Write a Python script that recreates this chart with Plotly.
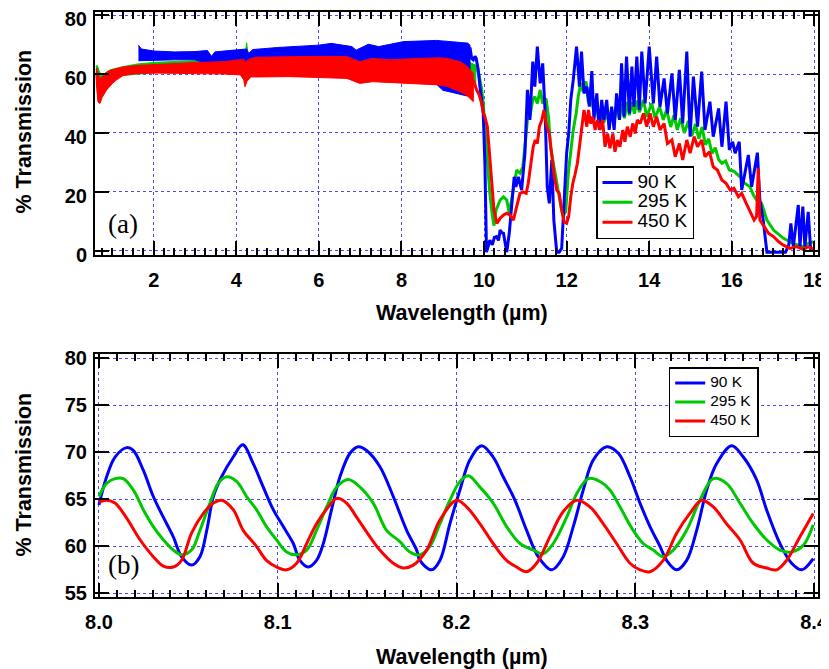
import plotly.graph_objects as go

# ---------------- Panel (a): dense-fringe region drawn as bands ----------------
blue_band_x  = [1.63, 1.70, 2.00, 2.50, 3.00, 3.30, 3.40, 3.48, 3.70, 4.00, 4.25, 4.30, 4.40, 5.00, 5.50, 6.00, 6.30, 6.80, 6.90, 7.20, 7.45, 8.05, 8.85, 9.00, 9.30, 9.60, 9.66]
blue_band_hi = [69.8, 68.5, 67.8, 67.5, 67.6, 68.0, 66.0, 67.5, 67.8, 68.3, 68.5, 67.0, 68.3, 69.0, 69.3, 69.8, 70.4, 69.3, 68.1, 70.1, 69.3, 71.0, 71.4, 71.2, 71.0, 70.5, 69.8]
blue_band_lo = [64.5, 64.5, 64.5, 64.8, 64.8, 63.5, 60.3, 63.5, 64.5, 63.0, 63.6, 62.0, 63.0, 62.0, 61.0, 60.5, 60.5, 60.0, 58.5, 59.0, 58.5, 58.0, 56.5, 54.5, 53.5, 52.5, 52.5]

green_band_x  = [0.60, 0.63, 0.68, 0.74, 0.94, 1.26, 1.60, 2.07, 3.00, 3.70, 3.76, 4.20, 4.25, 4.30, 5.00, 9.50, 9.80]
green_band_hi = [62.5, 63.0, 61.0, 59.5, 61.4, 62.5, 63.4, 64.0, 64.5, 65.0, 64.0, 64.5, 70.6, 65.0, 65.0, 65.0, 63.0]
green_band_lo = [60.5, 56.0, 54.0, 55.0, 58.0, 59.5, 60.0, 60.5, 61.0, 61.0, 61.0, 61.0, 61.0, 61.0, 60.0, 58.0, 56.0]

red_band_x  = [0.60, 0.62, 0.65, 0.70, 0.75, 0.86, 1.00, 1.10, 1.26, 1.60, 2.07, 2.88, 3.69, 4.10, 4.18, 4.21, 4.26, 4.35, 4.50, 5.30, 6.00, 6.68, 6.99, 7.30, 7.70, 8.25, 8.90, 9.10, 9.42, 9.60, 9.74]
red_band_hi = [61.5, 62.0, 60.0, 58.5, 59.0, 60.7, 61.5, 61.8, 62.4, 62.9, 63.3, 63.8, 64.2, 65.0, 65.0, 64.0, 64.5, 65.3, 65.7, 65.9, 66.0, 65.9, 64.2, 65.3, 64.8, 65.2, 65.5, 65.3, 64.2, 62.5, 60.2]
red_band_lo = [60.0, 55.0, 50.5, 50.0, 52.0, 54.6, 56.8, 58.0, 59.5, 60.2, 60.3, 60.2, 60.0, 59.7, 58.0, 55.7, 57.5, 59.0, 59.0, 59.1, 58.8, 58.5, 56.8, 57.4, 57.2, 56.8, 56.3, 55.8, 54.0, 52.5, 50.6]

# ---------------- Panel (a): resolved region (lines) ----------------
blue_x = [9.66, 9.70, 9.74, 9.78, 9.81, 9.86, 9.90, 9.98, 10.02, 10.06, 10.10, 10.14, 10.20, 10.25, 10.30, 10.35, 10.39, 10.44, 10.47, 10.51, 10.55,
          10.61, 10.67, 10.73, 10.77, 10.83, 10.91, 10.99, 11.05, 11.11, 11.18, 11.23, 11.29, 11.36, 11.42, 11.48, 11.53, 11.58, 11.64, 11.69,
          11.76, 11.82, 11.88, 11.94, 12.00, 12.05, 12.10, 12.16, 12.24, 12.31, 12.36, 12.42, 12.49, 12.55, 12.61, 12.66, 12.73, 12.79, 12.85,
          12.90, 12.97, 13.03, 13.09, 13.15, 13.21, 13.28, 13.33, 13.39, 13.45, 13.52, 13.58, 13.63, 13.70, 13.76, 13.82, 13.90, 14.00, 14.10,
          14.18, 14.26, 14.36, 14.44, 14.55, 14.63, 14.73, 14.81, 14.91, 14.99, 15.07, 15.17, 15.27, 15.35, 15.47, 15.55, 15.68, 15.76, 15.86,
          15.94, 16.02, 16.08, 16.18, 16.24, 16.40, 16.48, 16.62, 16.68, 16.76, 16.85, 17.30, 17.38, 17.43, 17.49, 17.61, 17.65, 17.72, 17.77,
          17.85, 17.91, 18.00]
blue_y = [69.0, 65.3, 64.8, 66.0, 65.3, 61.4, 55.7, 46.6, 30.0, -0.5, 1.5, 3.6, 2.0, 4.5, 4.8, 3.5, 7.0, 6.0, 5.9, 2.5, -0.5,
          5.9, 15.0, 25.1, 21.7, 25.1, 20.6, 33.1, 54.6, 44.4, 64.2, 55.7, 69.3, 56.8, 63.6, 46.6, 21.7, 16.1, 30.8, 10.4,
          -0.5, -0.5, 0.8, 15.0, 33.1, 39.8, 51.2, 58.0, 69.3, 55.7, 67.6, 53.4, 55.7, 48.9, 61.0, 44.4, 53.4, 41.0, 51.2,
          44.4, 51.2, 41.0, 48.9, 41.0, 53.4, 44.4, 63.6, 45.5, 65.9, 46.6, 62.5, 48.9, 65.9, 47.8, 67.6, 50.0, 69.3, 50.0,
          65.9, 48.9, 58.5, 46.6, 60.2, 44.4, 61.4, 43.2, 67.6, 38.7, 59.1, 42.1, 60.8, 41.0, 50.6, 38.7, 48.3, 35.3, 50.6,
          34.2, 37.0, 33.1, 37.0, 20.6, 32.5, 21.7, 33.3, 17.2, 10.4, -0.5, -0.5, 2.0, 9.3, 1.4, 15.5, 1.4, 15.0, 1.4,
          13.2, 0.2, 0.5]

green_x = [9.80, 9.88, 9.94, 9.98, 10.03, 10.08, 10.14, 10.20, 10.24, 10.29, 10.39, 10.47, 10.55, 10.61, 10.67, 10.73, 10.79, 10.87, 10.94,
           10.99, 11.05, 11.11, 11.18, 11.23, 11.29, 11.36, 11.42, 11.50, 11.56, 11.61, 11.68, 11.74, 11.80, 11.86, 11.92, 11.98, 12.04,
           12.10, 12.16, 12.23, 12.28, 12.34, 12.40, 12.47, 12.53, 12.58, 12.65, 12.71, 12.77, 12.83, 12.90, 12.97, 13.03, 13.09, 13.15,
           13.21, 13.28, 13.33, 13.40, 13.46, 13.52, 13.58, 13.64, 13.70, 13.76, 13.86, 13.94, 14.06, 14.14, 14.25, 14.34, 14.42, 14.52,
           14.60, 14.68, 14.76, 14.85, 14.95, 15.03, 15.12, 15.20, 15.28, 15.36, 15.44, 15.52, 15.60, 15.68, 15.76, 15.85, 15.94, 16.05,
           16.20, 16.30, 16.44, 16.52, 16.60, 16.72, 16.85, 17.01, 17.25, 17.49, 17.73, 17.85, 17.98]
green_y = [63.0, 59.5, 55.0, 50.0, 40.0, 30.0, 19.5, 12.0, 8.5, 13.8, 17.2, 18.3, 17.2, 12.7, 17.2, 22.9, 27.4, 26.3, 28.5,
           35.3, 44.4, 45.5, 51.2, 52.3, 50.0, 54.6, 50.0, 51.7, 45.5, 35.3, 29.7, 24.0, 19.5, 15.0, 11.6, 13.8, 26.3,
           33.1, 41.0, 46.6, 52.3, 56.8, 54.0, 57.5, 50.0, 53.4, 47.8, 51.2, 44.4, 46.0, 43.5, 47.0, 43.0, 48.0, 43.5,
           49.0, 44.5, 50.0, 45.0, 50.5, 46.0, 50.5, 46.5, 51.0, 47.0, 51.2, 45.5, 50.0, 45.0, 48.9, 44.4, 47.8, 42.0,
           46.0, 41.0, 45.0, 40.0, 44.0, 39.0, 43.0, 38.0, 42.0, 36.0, 38.0, 33.0, 35.0, 31.0, 29.7, 30.5, 27.4, 27.0,
           25.1, 23.0, 21.7, 19.0, 17.2, 16.1, 10.4, 7.0, 4.2, 2.5, 1.4, 2.5, 3.1]

red_x = [9.74, 9.78, 9.82, 9.88, 9.94, 9.98, 10.02, 10.08, 10.13, 10.18, 10.24, 10.31, 10.39, 10.47, 10.55, 10.63, 10.71, 10.79, 10.87, 10.95,
         11.02, 11.07, 11.13, 11.19, 11.24, 11.29, 11.34, 11.40, 11.45, 11.52, 11.58, 11.64, 11.69, 11.76, 11.82, 11.88, 11.94, 12.00, 12.05,
         12.10, 12.15, 12.20, 12.26, 12.32, 12.37, 12.42, 12.49, 12.53, 12.58, 12.63, 12.69, 12.74, 12.81, 12.87, 12.93, 12.99, 13.05, 13.12,
         13.17, 13.23, 13.29, 13.36, 13.41, 13.47, 13.54, 13.60, 13.66, 13.71, 13.78, 13.86, 13.94, 14.02, 14.10, 14.18, 14.26, 14.36, 14.44,
         14.55, 14.63, 14.73, 14.81, 14.91, 14.99, 15.09, 15.17, 15.27, 15.35, 15.46, 15.55, 15.65, 15.76, 15.86, 15.96, 16.05, 16.16, 16.24,
         16.35, 16.44, 16.54, 16.60, 16.64, 16.68, 16.76, 16.89, 17.01, 17.13, 17.25, 17.41, 17.57, 17.73, 17.85, 17.98]
red_y = [58.0, 56.0, 54.6, 53.0, 50.0, 47.0, 45.5, 42.1, 33.1, 21.7, 13.8, 9.3, 11.0, 12.1, 12.7, 12.1, 10.4, 15.0, 19.5, 20.0,
         19.5, 22.9, 28.5, 35.3, 37.6, 36.4, 42.1, 44.4, 47.8, 42.1, 39.8, 33.1, 26.3, 20.6, 19.5, 13.8, 9.8, 9.3, 11.6,
         18.3, 22.9, 25.7, 29.7, 36.4, 42.1, 47.8, 42.1, 47.8, 43.2, 45.5, 41.0, 44.4, 41.0, 44.4, 35.3, 39.8, 34.8, 39.8,
         33.6, 37.6, 35.3, 41.0, 37.0, 42.1, 38.7, 43.2, 39.8, 44.4, 43.2, 46.6, 42.1, 46.6, 42.1, 45.5, 41.0, 43.2, 36.4,
         37.6, 31.9, 36.4, 30.8, 37.6, 33.1, 38.7, 35.3, 37.6, 31.9, 33.6, 28.5, 27.4, 24.0, 22.9, 20.6, 21.2, 18.3, 19.5,
         16.1, 13.2, 10.4, 11.6, 28.0, 10.4, 8.7, 5.9, 4.8, 3.1, 1.9, 0.8, 1.4, 0.5, 1.4, 0.5]

# ---------------- Panel (b) ----------------
b_blue_x = [8.0, 8.0043, 8.009, 8.0155, 8.0192, 8.0248, 8.0304, 8.036, 8.0416, 8.0462, 8.0518, 8.0565, 8.0603, 8.064, 8.0686, 8.0751, 8.0804,
            8.0863, 8.0919, 8.0975, 8.1031, 8.1087, 8.1124, 8.1171, 8.1217, 8.1255, 8.1301, 8.1348, 8.1404, 8.145, 8.1497, 8.1571, 8.1646,
            8.1721, 8.1777, 8.1795, 8.186, 8.1907, 8.1963, 8.2019, 8.2075, 8.214, 8.2205, 8.2261, 8.2327, 8.2392, 8.2457, 8.2532, 8.2597,
            8.2653, 8.2709, 8.2765, 8.284, 8.2905, 8.297, 8.3026, 8.3082, 8.3138, 8.3175, 8.3231, 8.3287, 8.3343, 8.3399, 8.3455, 8.3539,
            8.3604, 8.3678, 8.3734, 8.3809, 8.3874, 8.393, 8.3995]
b_blue_y = [64.4, 67.4, 69.5, 70.5, 70.2, 68.1, 65.3, 63.1, 61.0, 58.9, 58.0, 58.9, 61.7, 65.3, 67.4, 69.5, 70.8,
            68.8, 66.3, 63.9, 62.1, 60.3, 58.5, 57.8, 58.5, 60.3, 63.9, 67.4, 69.9, 70.6, 70.2, 68.5, 65.3,
            61.7, 59.6, 58.5, 57.5, 58.5, 62.4, 66.0, 69.2, 70.7, 69.5, 67.4, 64.9, 61.7, 58.9, 57.5, 58.9,
            62.1, 66.0, 69.2, 70.6, 69.9, 67.4, 64.6, 62.1, 60.0, 58.5, 57.5, 58.5, 61.7, 66.0, 68.8, 70.7,
            69.5, 67.1, 63.9, 60.3, 58.2, 57.5, 58.7]

b_green_x = [8.0, 8.0043, 8.009, 8.0136, 8.0192, 8.0248, 8.0304, 8.036, 8.0416, 8.0462, 8.0518, 8.0565, 8.0621, 8.0667, 8.0714, 8.077,
             8.0826, 8.0881, 8.0937, 8.0993, 8.105, 8.1106, 8.1162, 8.1217, 8.1283, 8.133, 8.1395, 8.146, 8.1534, 8.1609, 8.1683, 8.1739,
             8.1795, 8.1851, 8.1907, 8.1963, 8.2019, 8.2066, 8.2131, 8.2205, 8.228, 8.2355, 8.243, 8.2485, 8.2541, 8.2616, 8.2672, 8.2737,
             8.2802, 8.2858, 8.2914, 8.2988, 8.3044, 8.31, 8.3156, 8.3212, 8.3287, 8.3361, 8.3436, 8.351, 8.3585, 8.366, 8.3734, 8.3809,
             8.3874, 8.3939, 8.3995]
b_green_y = [65.3, 66.7, 67.2, 67.2, 66.0, 63.9, 62.1, 60.7, 59.6, 59.1, 59.6, 61.7, 64.6, 66.7, 67.4, 66.9,
             65.3, 63.9, 62.1, 60.7, 59.4, 59.1, 59.6, 61.7, 64.6, 66.3, 67.1, 66.3, 64.6, 61.7, 60.5, 59.4,
             59.1, 60.0, 62.4, 64.9, 66.9, 67.5, 66.3, 64.6, 62.1, 60.3, 59.6, 59.2, 60.3, 63.1, 65.6, 67.2,
             66.9, 66.0, 64.2, 61.7, 60.3, 59.6, 58.9, 59.6, 61.7, 64.9, 67.2, 66.7, 64.6, 62.4, 60.7, 59.6,
             59.4, 60.1, 62.3]

b_red_x = [8.0, 8.0043, 8.009, 8.0155, 8.023, 8.0304, 8.036, 8.0416, 8.0462, 8.0518, 8.0584, 8.064, 8.0686, 8.0751, 8.0807, 8.0881,
           8.0937, 8.0993, 8.105, 8.1106, 8.1162, 8.1217, 8.1283, 8.133, 8.1385, 8.1441, 8.1516, 8.1571, 8.1646, 8.1702, 8.1758, 8.1833,
           8.1907, 8.2, 8.2056, 8.2131, 8.2205, 8.228, 8.2336, 8.2392, 8.2448, 8.2522, 8.2597, 8.2672, 8.2746, 8.2821, 8.2895, 8.297,
           8.3026, 8.3082, 8.3156, 8.3231, 8.3305, 8.3371, 8.3436, 8.351, 8.3585, 8.366, 8.3734, 8.379, 8.3846, 8.392, 8.3995]
b_red_y = [64.7, 64.9, 64.6, 63.0, 60.7, 58.9, 57.9, 57.8, 58.5, 61.4, 63.5, 64.6, 64.9, 63.9, 61.7, 60.0,
           58.5, 57.8, 57.5, 58.2, 60.3, 62.4, 64.2, 65.1, 64.6, 63.1, 61.0, 59.6, 58.2, 57.7, 58.0, 59.6,
           62.8, 64.9, 64.2, 62.4, 60.3, 58.5, 57.8, 57.3, 58.2, 61.0, 63.7, 64.9, 64.2, 62.4, 60.3, 58.2,
           57.5, 57.3, 58.5, 61.4, 63.5, 64.9, 64.2, 62.4, 60.7, 58.2, 57.7, 57.5, 58.5, 61.0, 63.5]

series_names = ["90 K", "295 K", "450 K"]
BLUE, GREEN, RED = "#0000ff", "#00c800", "#ff0000"

# page body has an 8px margin: figure is laid out in window pixels shifted by 8
OFF = 8
W, H = 829 - OFF, 669 - OFF
def px(x):
    return (x - OFF) / W
def py(y):
    return 1 - (y - OFF) / H

def big(name, size):
    return '<span style="font-size:%spx">%s</span>' % (size, name)

fig = go.Figure()

def band(x, hi, lo, color):
    return go.Scatter(x=x + x[::-1], y=hi + lo[::-1], fill="toself", fillcolor=color,
                      mode="lines", line=dict(color=color, width=1), showlegend=False,
                      hoverinfo="skip", xaxis="x", yaxis="y")

# draw order: green, blue, red
fig.add_trace(band(green_band_x, green_band_hi, green_band_lo, GREEN))
fig.add_trace(go.Scatter(x=green_x, y=green_y, mode="lines", line=dict(color=GREEN, width=3),
                         name=big(series_names[1], 19), legendrank=2, xaxis="x", yaxis="y"))
fig.add_trace(band(blue_band_x, blue_band_hi, blue_band_lo, BLUE))
fig.add_trace(go.Scatter(x=blue_x, y=blue_y, mode="lines", line=dict(color=BLUE, width=3),
                         name=big(series_names[0], 19), legendrank=1, xaxis="x", yaxis="y"))
fig.add_trace(band(red_band_x, red_band_hi, red_band_lo, RED))
fig.add_trace(go.Scatter(x=red_x, y=red_y, mode="lines", line=dict(color=RED, width=3),
                         name=big(series_names[2], 19), legendrank=3, xaxis="x", yaxis="y"))

fig.add_trace(go.Scatter(x=b_blue_x, y=b_blue_y, mode="lines", line=dict(color=BLUE, width=3, shape="spline"),
                         name=big(series_names[0], 15.5), legendrank=1, xaxis="x2", yaxis="y2", legend="legend2"))
fig.add_trace(go.Scatter(x=b_green_x, y=b_green_y, mode="lines", line=dict(color=GREEN, width=3, shape="spline"),
                         name=big(series_names[1], 15.5), legendrank=2, xaxis="x2", yaxis="y2", legend="legend2"))
fig.add_trace(go.Scatter(x=b_red_x, y=b_red_y, mode="lines", line=dict(color=RED, width=3, shape="spline"),
                         name=big(series_names[2], 15.5), legendrank=3, xaxis="x2", yaxis="y2", legend="legend2"))

tickfont = dict(family="Liberation Sans", size=20, color="black", weight="bold")
common = dict(showline=True, linecolor="black", linewidth=2, mirror="ticks", ticks="inside",
              tickcolor="black", tickwidth=1.5, ticklen=14, showgrid=True, gridcolor="#4a4aff",
              gridwidth=1, griddash="dot", zeroline=False, tickfont=tickfont, automargin=False,
              ticklabeloverflow="allow")

xd = [px(95), px(817.7)]
fig.update_layout(
    width=W, height=H, margin=dict(l=0, r=0, t=0, b=0, autoexpand=False),
    paper_bgcolor="white", plot_bgcolor="white",
    xaxis=dict(domain=xd, range=[0.578, 18.08], anchor="y", tick0=0, dtick=2,
               minor=dict(dtick=0.25, ticklen=7, ticks="inside", tickcolor="black", tickwidth=1.5, showgrid=False),
               ticklabelstandoff=6, **common),
    yaxis=dict(domain=[py(255), py(12.3)], range=[-1.46, 80.95], anchor="x", tick0=0, dtick=20,
               ticklabelstandoff=2, ticklabelshift=4, **common),
    xaxis2=dict(domain=xd, range=[7.9978, 8.402], anchor="y2", tick0=8.0, dtick=0.1, tickformat=".1f",
                minor=dict(dtick=0.01, ticklen=7, ticks="inside", tickcolor="black", tickwidth=1.5, showgrid=False),
                ticklabelstandoff=6, **common),
    yaxis2=dict(domain=[py(596.7), py(354.3)], range=[54.64, 80.43], anchor="x2", tick0=55, dtick=5,
                ticklabelstandoff=2, **common),
    legend=dict(x=px(596), y=py(166), xanchor="left", yanchor="top", bordercolor="black", borderwidth=1.5,
                bgcolor="white", font=dict(family="Liberation Sans", size=13, color="black"),
                itemwidth=30, tracegroupgap=0),
    legend2=dict(x=px(668.7), y=py(367), xanchor="left", yanchor="top", bordercolor="black", borderwidth=1.5,
                 bgcolor="white", font=dict(family="Liberation Sans", size=10.5, color="black"),
                 itemwidth=30, tracegroupgap=0),
)

titlefont = dict(family="Liberation Sans", size=21.5, color="black", weight="bold")
ann = [
    dict(text="Wavelength (µm)", x=px(462), y=py(313)),
    dict(text="Wavelength (µm)", x=px(462), y=py(657)),
    dict(text="% Transmission", x=px(23.5), y=py(132), textangle=-90),
    dict(text="% Transmission", x=px(23.5), y=py(475), textangle=-90),
]
for a in ann:
    fig.add_annotation(xref="paper", yref="paper", showarrow=False, xanchor="center", yanchor="middle",
                       font=titlefont, **a)
for t, yy in [("(a)", 224), ("(b)", 565)]:
    fig.add_annotation(text=t, xref="paper", yref="paper", x=px(106), y=py(yy), showarrow=False,
                       xanchor="left", yanchor="middle",
                       font=dict(family="Liberation Serif", size=27, color="black"))

fig.write_html("out.html")
